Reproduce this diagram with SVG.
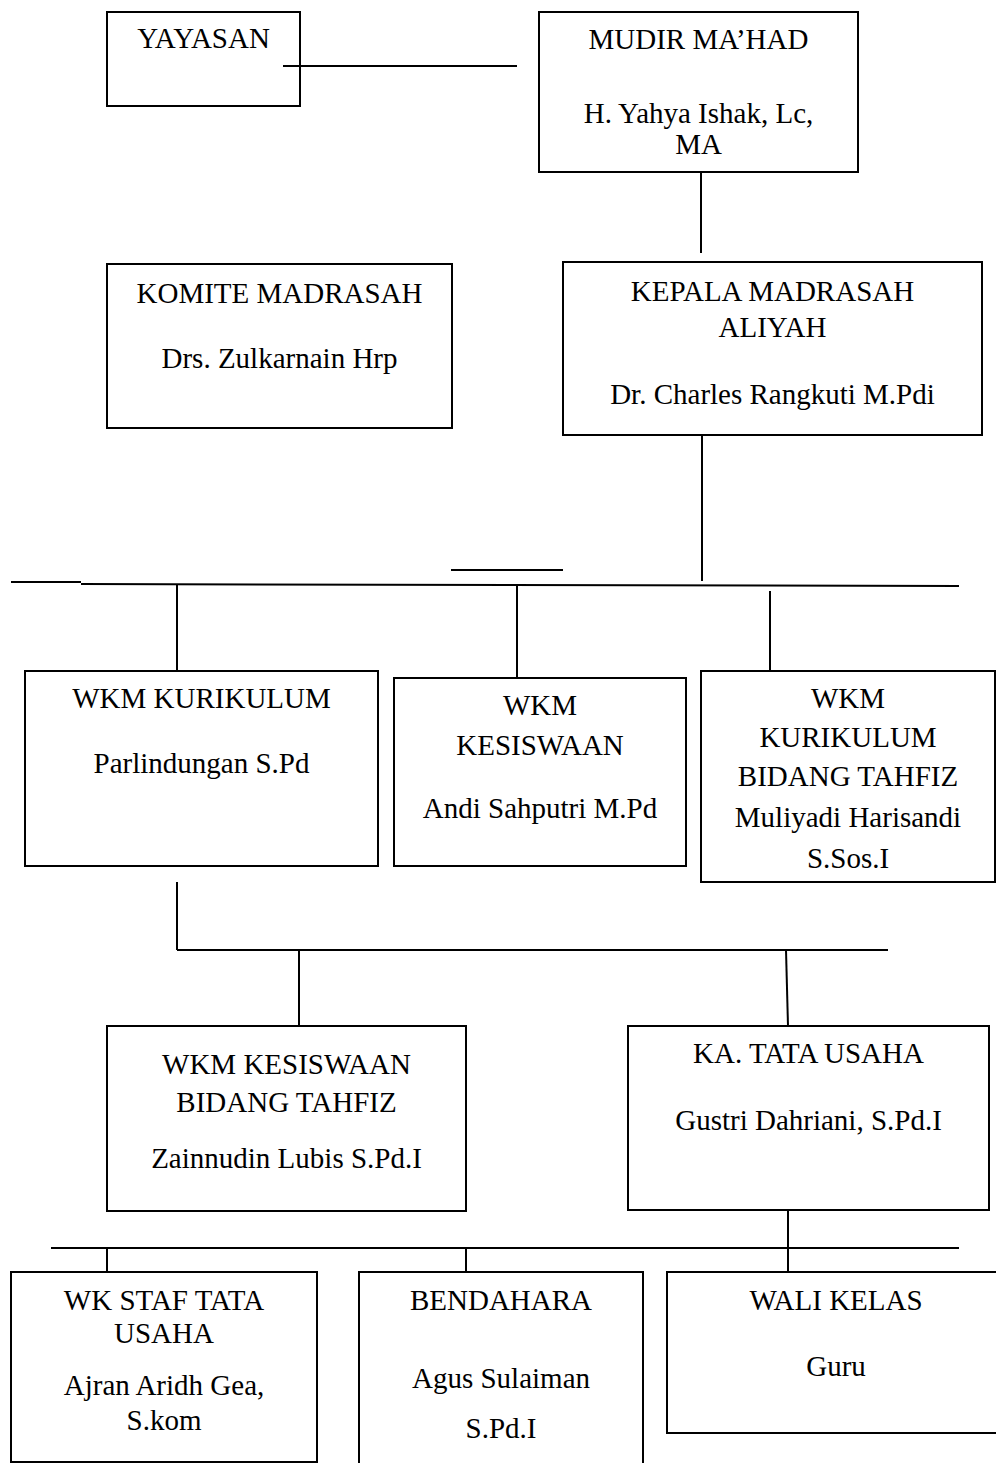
<svg xmlns="http://www.w3.org/2000/svg" width="996" height="1463" viewBox="0 0 996 1463">
<style>
rect{fill:none;stroke:#000;stroke-width:2}
line{stroke:#000;stroke-width:2}
text{font-family:"Liberation Serif","Times New Roman",serif;font-size:29px;fill:#000;text-anchor:middle}
</style>
<rect x="0" y="0" width="996" height="1463" style="stroke:none;fill:#fff"/>
<g id="connectors">
<line x1="283" y1="66" x2="517" y2="66"/>
<line x1="701" y1="172" x2="701" y2="253"/>
<line x1="702" y1="435" x2="702" y2="581"/>
<line x1="11" y1="582" x2="81" y2="582"/>
<line x1="81" y1="584" x2="959" y2="586"/>
<line x1="451" y1="570" x2="563" y2="570"/>
<line x1="177" y1="584" x2="177" y2="671"/>
<line x1="517" y1="584" x2="517" y2="678"/>
<line x1="770" y1="591" x2="770" y2="671"/>
<line x1="177" y1="882" x2="177" y2="950"/>
<line x1="177" y1="950" x2="888" y2="950"/>
<line x1="299" y1="950" x2="299" y2="1026"/>
<line x1="786" y1="950" x2="788" y2="1026"/>
<line x1="788" y1="1210" x2="788" y2="1272"/>
<line x1="51" y1="1248" x2="959" y2="1248"/>
<line x1="107" y1="1248" x2="107" y2="1272"/>
<line x1="466" y1="1248" x2="466" y2="1272"/>
</g>
<g id="yayasan">
<rect x="107" y="12" width="193" height="94"/>
<text x="203.5" y="48">YAYASAN</text>
</g>
<g id="mudir">
<rect x="539" y="12" width="319" height="160"/>
<text x="698.5" y="49">MUDIR MA’HAD</text>
<text x="698.5" y="123">H. Yahya Ishak, Lc,</text>
<text x="698.5" y="154">MA</text>
</g>
<g id="komite">
<rect x="107" y="264" width="345" height="164"/>
<text x="279.5" y="303">KOMITE MADRASAH</text>
<text x="279.5" y="368">Drs. Zulkarnain Hrp</text>
</g>
<g id="kepala">
<rect x="563" y="262" width="419" height="173"/>
<text x="772.5" y="301">KEPALA MADRASAH</text>
<text x="772.5" y="337">ALIYAH</text>
<text x="772.5" y="404">Dr. Charles Rangkuti M.Pdi</text>
</g>
<g id="wkm-kurikulum">
<rect x="25" y="671" width="353" height="195"/>
<text x="201.5" y="708">WKM KURIKULUM</text>
<text x="201.5" y="773">Parlindungan S.Pd</text>
</g>
<g id="wkm-kesiswaan">
<rect x="394" y="678" width="292" height="188"/>
<text x="540" y="715">WKM</text>
<text x="540" y="755">KESISWAAN</text>
<text x="540" y="818">Andi Sahputri M.Pd</text>
</g>
<g id="wkm-kurikulum-tahfiz">
<rect x="701" y="671" width="294" height="211"/>
<text x="848" y="708">WKM</text>
<text x="848" y="747">KURIKULUM</text>
<text x="848" y="786">BIDANG TAHFIZ</text>
<text x="848" y="827">Muliyadi Harisandi</text>
<text x="848" y="868">S.Sos.I</text>
</g>
<g id="wkm-kesiswaan-tahfiz">
<rect x="107" y="1026" width="359" height="185"/>
<text x="286.5" y="1074">WKM KESISWAAN</text>
<text x="286.5" y="1112">BIDANG TAHFIZ</text>
<text x="286.5" y="1168">Zainnudin Lubis S.Pd.I</text>
</g>
<g id="ka-tata-usaha">
<rect x="628" y="1026" width="361" height="184"/>
<text x="808.5" y="1063">KA. TATA USAHA</text>
<text x="808.5" y="1130">Gustri Dahriani, S.Pd.I</text>
</g>
<g id="wk-staf">
<rect x="11" y="1272" width="306" height="190"/>
<text x="164" y="1310">WK STAF TATA</text>
<text x="164" y="1343">USAHA</text>
<text x="164" y="1395">Ajran Aridh Gea,</text>
<text x="164" y="1430">S.kom</text>
</g>
<g id="bendahara">
<rect x="359" y="1272" width="284" height="200"/>
<text x="501" y="1310">BENDAHARA</text>
<text x="501" y="1388">Agus Sulaiman</text>
<text x="501" y="1438">S.Pd.I</text>
</g>
<g id="wali-kelas">
<rect x="667" y="1272" width="335" height="161"/>
<text x="836" y="1310">WALI KELAS</text>
<text x="836" y="1376">Guru</text>
</g>
</svg>
